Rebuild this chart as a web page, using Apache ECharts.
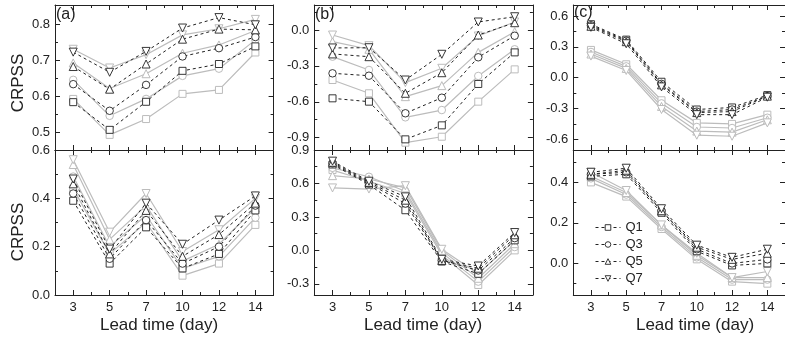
<!DOCTYPE html>
<html><head><meta charset="utf-8">
<script src="https://cdn.jsdelivr.net/npm/echarts@6/dist/echarts.min.js"></script>
<style>html,body{margin:0;padding:0;background:#fff}#c{width:785px;height:344px}</style>
</head><body><div id="c"></div>
<script>
// Lead times (categories)
const leadTimes = ['3', '5', '7', '10', '12', '14'];
const qNames = ['Q1', 'Q3', 'Q5', 'Q7'];

// Panel (a) top: dashed black / solid gray
const aTopDashQ1 = [0.583, 0.506, 0.584, 0.670, 0.689, 0.738];
const aTopDashQ3 = [0.633, 0.559, 0.631, 0.710, 0.733, 0.764];
const aTopDashQ5 = [0.682, 0.619, 0.689, 0.758, 0.786, 0.784];
const aTopDashQ7 = [0.722, 0.666, 0.724, 0.789, 0.818, 0.798];
const aTopGrayQ1 = [0.592, 0.492, 0.536, 0.606, 0.617, 0.721];
const aTopGrayQ3 = [0.645, 0.545, 0.592, 0.656, 0.676, 0.756];
const aTopGrayQ5 = [0.692, 0.621, 0.662, 0.719, 0.742, 0.782];
const aTopGrayQ7 = [0.730, 0.678, 0.715, 0.770, 0.787, 0.813];

// Panel (b) top
const bTopDashQ1 = [-0.571, -0.599, -0.914, -0.797, -0.451, -0.187];
const bTopDashQ3 = [-0.362, -0.382, -0.696, -0.566, -0.228, -0.048];
const bTopDashQ5 = [-0.200, -0.223, -0.529, -0.357, -0.042, 0.061];
const bTopDashQ7 = [-0.150, -0.148, -0.418, -0.203, 0.067, 0.111];
const bTopGrayQ1 = [-0.418, -0.529, -0.942, -0.892, -0.599, -0.329];
const bTopGrayQ3 = [-0.223, -0.334, -0.730, -0.669, -0.384, -0.161];
const bTopGrayQ5 = [-0.097, -0.161, -0.557, -0.465, -0.187, -0.014];
const bTopGrayQ7 = [-0.042, -0.131, -0.440, -0.320, -0.050, 0.067];

// Panel (c) top
const cTopDashQ1 = [0.52, 0.37, -0.04, -0.31, -0.29, -0.17];
const cTopDashQ3 = [0.51, 0.36, -0.06, -0.33, -0.31, -0.18];
const cTopDashQ5 = [0.50, 0.35, -0.07, -0.34, -0.33, -0.18];
const cTopDashQ7 = [0.49, 0.33, -0.09, -0.36, -0.36, -0.19];
const cTopGrayQ1 = [0.27, 0.13, -0.22, -0.44, -0.45, -0.36];
const cTopGrayQ3 = [0.25, 0.11, -0.25, -0.48, -0.49, -0.39];
const cTopGrayQ5 = [0.23, 0.09, -0.28, -0.52, -0.53, -0.41];
const cTopGrayQ7 = [0.21, 0.07, -0.31, -0.56, -0.57, -0.44];

// Panel (a) bottom
const aBotDashQ1 = [0.39, 0.13, 0.28, 0.11, 0.17, 0.35];
const aBotDashQ3 = [0.42, 0.15, 0.31, 0.13, 0.20, 0.37];
const aBotDashQ5 = [0.46, 0.17, 0.35, 0.16, 0.25, 0.38];
const aBotDashQ7 = [0.48, 0.19, 0.38, 0.21, 0.31, 0.41];
const aBotGrayQ1 = [0.44, 0.17, 0.30, 0.08, 0.13, 0.29];
const aBotGrayQ3 = [0.49, 0.20, 0.33, 0.11, 0.16, 0.32];
const aBotGrayQ5 = [0.54, 0.23, 0.37, 0.14, 0.21, 0.36];
const aBotGrayQ7 = [0.56, 0.26, 0.42, 0.18, 0.27, 0.40];

// Panel (b) bottom
const bBotDashQ1 = [0.77, 0.59, 0.36, -0.10, -0.21, 0.09];
const bBotDashQ3 = [0.78, 0.60, 0.42, -0.09, -0.18, 0.11];
const bBotDashQ5 = [0.79, 0.61, 0.45, -0.09, -0.16, 0.14];
const bBotDashQ7 = [0.80, 0.62, 0.48, -0.08, -0.14, 0.16];
const bBotGrayQ1 = [0.72, 0.62, 0.51, -0.04, -0.31, 0.00];
const bBotGrayQ3 = [0.74, 0.66, 0.53, -0.02, -0.28, 0.03];
const bBotGrayQ5 = [0.67, 0.64, 0.56, 0.00, -0.25, 0.06];
const bBotGrayQ7 = [0.56, 0.55, 0.58, 0.01, -0.21, 0.09];

// Panel (c) bottom
const cBotDashQ1 = [0.43, 0.44, 0.25, 0.06, -0.01, 0.00];
const cBotDashQ3 = [0.44, 0.45, 0.26, 0.07, 0.00, 0.02];
const cBotDashQ5 = [0.44, 0.46, 0.26, 0.08, 0.02, 0.05];
const cBotDashQ7 = [0.45, 0.47, 0.27, 0.09, 0.03, 0.07];
const cBotGrayQ1 = [0.40, 0.33, 0.17, 0.02, -0.09, -0.10];
const cBotGrayQ3 = [0.42, 0.34, 0.18, 0.03, -0.08, -0.08];
const cBotGrayQ5 = [0.43, 0.35, 0.19, 0.04, -0.07, -0.07];
const cBotGrayQ7 = [0.45, 0.36, 0.19, 0.05, -0.07, -0.04];

// Y axis tick labels (major) and minor ticks per panel
const aTopTicks = [0.5, 0.6, 0.7, 0.8];
const aTopMinor = [0.55, 0.65, 0.75];
const bTopTicks = [-0.9, -0.6, -0.3, 0.0];
const bTopMinor = [-0.75, -0.45, -0.15, 0.15];
const cTopTicks = [-0.6, -0.3, 0.0, 0.3, 0.6];
const cTopMinor = [-0.45, -0.15, 0.15, 0.45];
const aBotTicks = [0.0, 0.2, 0.4, 0.6];
const aBotMinor = [0.1, 0.3, 0.5];
const bBotTicks = [-0.3, 0.0, 0.3, 0.6, 0.9];
const bBotMinor = [-0.15, 0.15, 0.45, 0.75];
const cBotTicks = [0.0, 0.2, 0.4];
const cBotMinor = [-0.1, 0.1, 0.3, 0.5];

// Y ranges
const yRanges = [[0.45, 0.853], [-1.003, 0.209], [-0.704, 0.707], [0, 0.6], [-0.4, 0.9], [-0.156, 0.56]];

const panels = [
  {dash: [aTopDashQ1, aTopDashQ3, aTopDashQ5, aTopDashQ7], gray: [aTopGrayQ1, aTopGrayQ3, aTopGrayQ5, aTopGrayQ7], ticks: aTopTicks, minor: aTopMinor},
  {dash: [bTopDashQ1, bTopDashQ3, bTopDashQ5, bTopDashQ7], gray: [bTopGrayQ1, bTopGrayQ3, bTopGrayQ5, bTopGrayQ7], ticks: bTopTicks, minor: bTopMinor},
  {dash: [cTopDashQ1, cTopDashQ3, cTopDashQ5, cTopDashQ7], gray: [cTopGrayQ1, cTopGrayQ3, cTopGrayQ5, cTopGrayQ7], ticks: cTopTicks, minor: cTopMinor},
  {dash: [aBotDashQ1, aBotDashQ3, aBotDashQ5, aBotDashQ7], gray: [aBotGrayQ1, aBotGrayQ3, aBotGrayQ5, aBotGrayQ7], ticks: aBotTicks, minor: aBotMinor},
  {dash: [bBotDashQ1, bBotDashQ3, bBotDashQ5, bBotDashQ7], gray: [bBotGrayQ1, bBotGrayQ3, bBotGrayQ5, bBotGrayQ7], ticks: bBotTicks, minor: bBotMinor},
  {dash: [cBotDashQ1, cBotDashQ3, cBotDashQ5, cBotDashQ7], gray: [cBotGrayQ1, cBotGrayQ3, cBotGrayQ5, cBotGrayQ7], ticks: cBotTicks, minor: cBotMinor}
];

const ink = '#222';
const grayC = '#bcbcbc';
const colLefts = [55, 314.3, 573.3];
const rowTops = [5, 150];
const W = 218.6, H = 145;

const grid = [], xAxis = [], yAxis = [], series = [];
const symbols = ['rect', 'circle', 'triangle', 'triangle'];
const rots = [0, 0, 0, 180];
const sizes = [7, 7.5, 8, 8];

panels.forEach((p, i) => {
  const row = Math.floor(i / 3), col = i % 3;
  grid.push({left: colLefts[col], top: rowTops[row], width: W, height: H});
  const lineS = {color: ink, width: 1};
  const xBase = {gridIndex: i, type: 'category', data: leadTimes, boundaryGap: true, splitLine: {show: false}};
  xAxis.push(Object.assign({}, xBase, {position: 'bottom', axisLine: {show: true, onZero: false, lineStyle: lineS},
    axisTick: {show: true, inside: true, alignWithLabel: true, length: 5, lineStyle: lineS},
    axisLabel: {show: row === 1, margin: 6, fontSize: 13, color: ink}}));
  xAxis.push(Object.assign({}, xBase, {position: 'bottom', axisLine: {show: false, onZero: false},
    axisTick: {show: true, inside: true, length: 3, lineStyle: lineS}, axisLabel: {show: false}}));
  xAxis.push(Object.assign({}, xBase, {position: 'top', axisLine: {show: true, onZero: false, lineStyle: lineS},
    axisTick: {show: true, inside: true, alignWithLabel: true, length: 5, lineStyle: lineS}, axisLabel: {show: false}}));
  xAxis.push(Object.assign({}, xBase, {position: 'top', axisLine: {show: false, onZero: false},
    axisTick: {show: true, inside: true, length: 3, lineStyle: lineS}, axisLabel: {show: false}}));

  const yBase = {gridIndex: i, type: 'value', min: yRanges[i][0], max: yRanges[i][1], splitLine: {show: false}};
  yAxis.push(Object.assign({}, yBase, {position: 'left', axisLine: {show: true, onZero: false, lineStyle: lineS},
    axisTick: {show: true, inside: true, length: 5, lineStyle: lineS, customValues: p.ticks},
    axisLabel: {show: true, margin: 5, fontSize: 13, color: ink, customValues: p.ticks, formatter: v => (+v).toFixed(1)}}));
  yAxis.push(Object.assign({}, yBase, {position: 'left', axisLine: {show: false, onZero: false},
    axisTick: {show: true, inside: true, length: 3, lineStyle: lineS, customValues: p.minor}, axisLabel: {show: false}}));
  yAxis.push(Object.assign({}, yBase, {position: 'right', axisLine: {show: true, onZero: false, lineStyle: lineS},
    axisTick: {show: true, inside: true, length: 5, lineStyle: lineS, customValues: p.ticks}, axisLabel: {show: false}}));
  yAxis.push(Object.assign({}, yBase, {position: 'right', axisLine: {show: false, onZero: false},
    axisTick: {show: true, inside: true, length: 3, lineStyle: lineS, customValues: p.minor}, axisLabel: {show: false}}));

  qNames.forEach((q, k) => {
    series.push({
      name: q + ' (gray)', type: 'line', xAxisIndex: i * 4, yAxisIndex: i * 4, data: p.gray[k],
      symbol: symbols[k], symbolRotate: rots[k], symbolSize: sizes[k], showAllSymbol: true,
      lineStyle: {color: grayC, width: 1.2, type: 'solid'},
      itemStyle: {color: '#fff', borderColor: grayC, borderWidth: 1},
      emphasis: {disabled: true}, z: 2
    });
  });
  qNames.forEach((q, k) => {
    series.push({
      name: q, type: 'line', xAxisIndex: i * 4, yAxisIndex: i * 4, data: p.dash[k],
      symbol: symbols[k], symbolRotate: rots[k], symbolSize: sizes[k], showAllSymbol: true,
      lineStyle: {color: ink, width: 1, type: [3, 3]},
      itemStyle: {color: '#fff', borderColor: ink, borderWidth: 0.9},
      emphasis: {disabled: true}, z: 3
    });
  });
});

const font = 'Liberation Sans, Arial, sans-serif';
const graphic = [
  {type: 'text', x: 56, y: 7, style: {text: '(a)', font: '16px ' + font, fill: ink}},
  {type: 'text', x: 315, y: 7, style: {text: '(b)', font: '16px ' + font, fill: ink}},
  {type: 'text', x: 574, y: 5, style: {text: '(c)', font: '16px ' + font, fill: ink}},
  {type: 'text', x: 18, y: 83, rotation: Math.PI / 2, style: {text: 'CRPSS', font: '17px ' + font, fill: ink, align: 'center', verticalAlign: 'middle'}},
  {type: 'text', x: 18, y: 232, rotation: Math.PI / 2, style: {text: 'CRPSS', font: '17px ' + font, fill: ink, align: 'center', verticalAlign: 'middle'}},
  {type: 'text', x: 159, y: 325, style: {text: 'Lead time (day)', font: '17px ' + font, fill: ink, align: 'center', verticalAlign: 'middle'}},
  {type: 'text', x: 423, y: 325, style: {text: 'Lead time (day)', font: '17px ' + font, fill: ink, align: 'center', verticalAlign: 'middle'}},
  {type: 'text', x: 695, y: 325, style: {text: 'Lead time (day)', font: '17px ' + font, fill: ink, align: 'center', verticalAlign: 'middle'}}
];

const chart = echarts.init(document.getElementById('c'), null, {renderer: 'canvas'});
chart.setOption({
  animation: false,
  backgroundColor: '#fff',
  textStyle: {fontFamily: font},
  grid, xAxis, yAxis, series, graphic,
  legend: {
    data: qNames, orient: 'vertical', left: 590, top: 216, itemWidth: 25, itemHeight: 7, itemGap: 4,
    selectedMode: false, textStyle: {fontSize: 13, color: ink, fontFamily: font},
    itemStyle: {color: '#fff', borderColor: ink, borderWidth: 0.9},
    lineStyle: {color: ink, width: 1, type: [3, 3]}
  }
});
</script>
</body></html>
